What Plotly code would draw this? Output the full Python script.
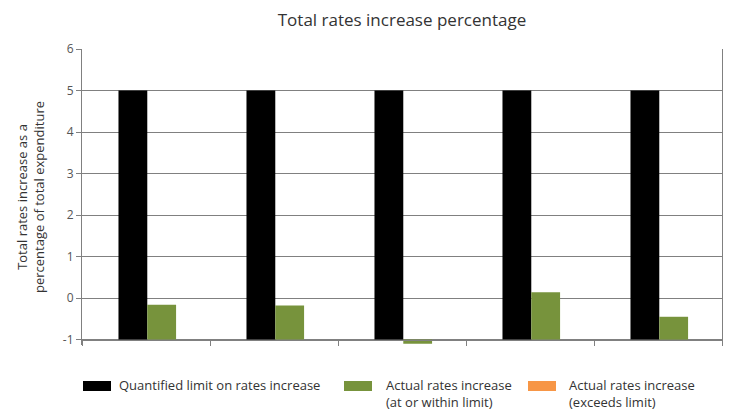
import plotly.graph_objects as go

# Five reporting years (positions on the category axis, no labels drawn)
years = [1, 2, 3, 4, 5]

# Quantified limit on rates increase (% of total expenditure)
limit = [5, 5, 5, 5, 5]
# Actual rates increase, at or within the limit
within_limit = [-0.16, -0.18, -1.1, 0.14, -0.45]
# Actual rates increase that exceeded the limit (none in the period)
over_limit = [None, None, None, None, None]

series_names = [
    "Quantified limit on rates increase",
    "Actual rates increase<br>(at or within limit)",
    "Actual rates increase<br>(exceeds limit)",
]
series_colors = ["#000000", "#77933C", "#F79646"]

y_ticks = [-1, 0, 1, 2, 3, 4, 5, 6]
y_tick_text = ["-1", "0", "1", "2", "3", "4", "5", "6"]
boundaries = [0.5, 1.5, 2.5, 3.5, 4.5, 5.5]

BASE = -1          # bars rise from the horizontal axis at -1
Y_MIN, Y_MAX = -1.13, 6
BAR_W = 0.225
BAR_OFFSETS = [-0.215, 0.01, 0.235]

W, H = 732, 414
M_L, M_R, M_T, M_B = 82, 10, 49, 69
PLOT_W = W - M_L - M_R
PLOT_H = H - M_T - M_B

FONT = "Open Sans"
GREY = "#808080"
TEXT = "#333333"


def px_x(px):
    """Figure pixel column -> paper x."""
    return (px - M_L) / PLOT_W


def px_y(py):
    """Figure pixel row -> paper y."""
    return (H - M_B - py) / PLOT_H


fig = go.Figure()
for vals, name, color, off in zip([limit, within_limit, over_limit],
                                  series_names, series_colors, BAR_OFFSETS):
    fig.add_trace(go.Bar(
        x=years,
        y=[None if v is None else v - BASE for v in vals],
        base=BASE,
        width=BAR_W, offset=off,
        marker=dict(color=color, line=dict(width=0)),
        name=name.replace("<br>", " "),
        showlegend=False,
    ))

# Legend drawn below the plot: wide colour swatch followed by its label,
# one text row per label line so the rows sit close together
legend_swatch_x = [83, 344, 528]
legend_text_x = [118, 385, 568]
legend_row_y = [385, 402]
shapes = []
annotations = []
for name, color, sx, tx in zip(series_names, series_colors,
                               legend_swatch_x, legend_text_x):
    shapes.append(dict(
        type="rect", xref="paper", yref="paper",
        x0=px_x(sx), x1=px_x(sx + 28), y0=px_y(391), y1=px_y(381),
        fillcolor=color, line=dict(width=0), layer="above",
    ))
    for line, ry in zip(name.split("<br>"), legend_row_y):
        annotations.append(dict(
            text=line, xref="paper", yref="paper",
            x=px_x(tx), y=px_y(ry), xanchor="left", yanchor="middle",
            showarrow=False, borderpad=0,
            font=dict(family=FONT, size=13, color=TEXT),
        ))

fig.update_layout(
    width=W, height=H,
    margin=dict(l=M_L, r=M_R, t=M_T, b=M_B, autoexpand=False),
    paper_bgcolor="white", plot_bgcolor="white",
    barmode="overlay",
    showlegend=False,
    font=dict(family=FONT, size=12, color=TEXT),
    title=dict(
        text="Total rates increase percentage",
        x=(M_L + W - M_R) / 2 / W, xanchor="center",
        y=1 - 20 / H, yanchor="middle",
        font=dict(family=FONT, size=17, color=TEXT),
    ),
    xaxis=dict(
        range=[0.5, 5.5],
        showgrid=False, zeroline=False,
        showticklabels=False,
        tickmode="array", tickvals=boundaries,
        ticks="outside", ticklen=5, tickcolor=GREY,
        showline=True, linecolor=GREY, linewidth=1,
        anchor="free",
        position=(BASE - Y_MIN) / (Y_MAX - Y_MIN),
    ),
    yaxis=dict(
        range=[Y_MIN, Y_MAX],
        tickmode="array", tickvals=y_ticks, ticktext=y_tick_text,
        showgrid=True, gridcolor=GREY, gridwidth=1,
        zeroline=False,
        ticks="outside", ticklen=5, tickcolor=GREY,
        showline=True, linecolor=GREY, linewidth=1, mirror=True,
        tickfont=dict(size=12, color="#555555"),
        title=dict(
            text="Total rates increase as a<br>percentage of total expenditure",
            font=dict(size=13, color=TEXT),
            standoff=15,
        ),
    ),
    shapes=shapes,
    annotations=annotations,
)

fig.write_html("out.html")
